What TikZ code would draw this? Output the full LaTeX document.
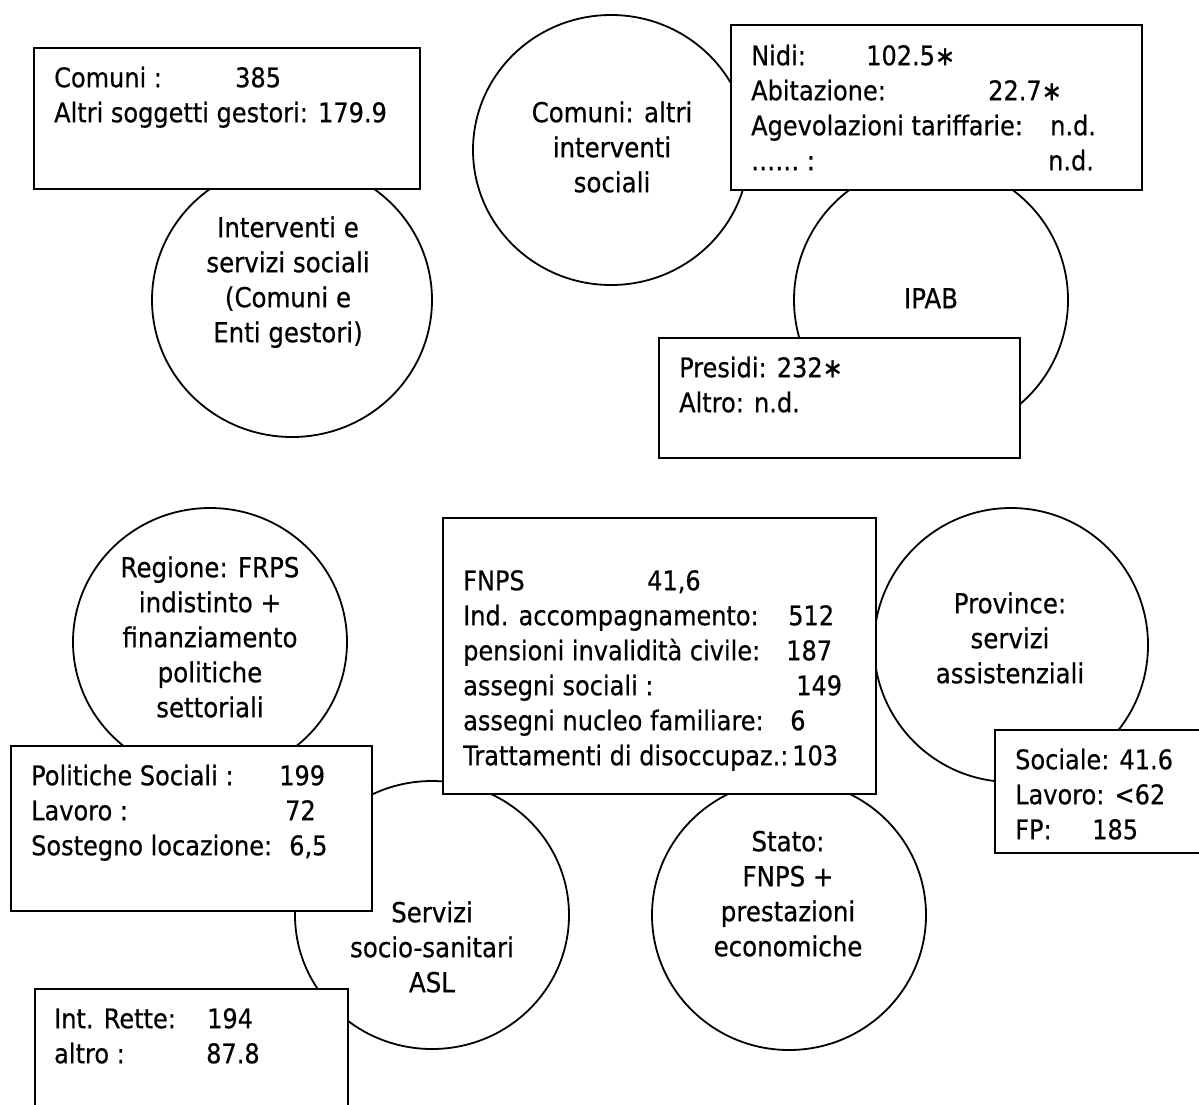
\documentclass[tikz,border=0pt]{standalone}
\usepackage{fontspec}
\setmainfont{DejaVu Sans}[FakeStretch=0.89, FakeBold=0.5]
\usetikzlibrary{shapes.geometric}
\tikzset{
  oval/.style={ellipse, draw, fill=white, line width=1.8pt, inner sep=0pt},
  databox/.style={rectangle, draw, fill=white, line width=1.8pt, inner sep=0pt, anchor=north west},
  txt/.style={inner sep=0pt, anchor=north west, align=left, font=\fontsize{27}{35}\selectfont},
  ctxt/.style={inner sep=0pt, anchor=north, align=center, font=\fontsize{27.5}{35}\selectfont},
}
\begin{document}
\begin{tikzpicture}[x=1pt, y=-1pt]
\useasboundingbox (0,0) rectangle (1199,1104);
\clip (0,0) rectangle (1199,1104);
% ovals
\node[oval, minimum width=280pt, minimum height=274pt] (B) at (292,300) {};
\node[oval, minimum width=276pt, minimum height=270pt] (C) at (611,150) {};
\node[oval, minimum width=274pt, minimum height=274pt] (E) at (931,300) {};
\node[oval, minimum width=274pt, minimum height=268pt] (R) at (210,642) {};
\node[oval, minimum width=274pt, minimum height=274pt] (P) at (1011,645) {};
\node[oval, minimum width=274pt, minimum height=268pt] (S) at (432,915) {};
\node[oval, minimum width=274pt, minimum height=270pt] (T) at (789,915) {};
% boxes
\node[databox, minimum width=386pt, minimum height=141pt] (A) at (33,47) {};
\node[databox, minimum width=411pt, minimum height=165pt] (D) at (730,24) {};
\node[databox, minimum width=361pt, minimum height=120pt] (F) at (658,337) {};
\node[databox, minimum width=433pt, minimum height=276pt] (N) at (442,517) {};
\node[databox, minimum width=361pt, minimum height=165pt] (G) at (10,745) {};
\node[databox, minimum width=215pt, minimum height=123pt] (H) at (994,729) {};
\node[databox, minimum width=313pt, minimum height=130pt] (I) at (34,988) {};
% oval texts
\node[ctxt] (Bt) at (288,212.5) {\strut Interventi e\\servizi sociali\\(Comuni e\\Enti gestori)};
\node[ctxt] (Ct) at (612,97.5) {\strut Comuni: altri\\interventi\\sociali};
\node[ctxt] (Et) at (931,283.5) {\strut IPAB};
\node[ctxt] (Rt) at (210,552.5) {\strut Regione: FRPS\\indistinto +\\finanziamento\\politiche\\settoriali};
\node[ctxt] (Pt) at (1010,588.5) {\strut Province:\\servizi\\assistenziali};
\node[ctxt] (St) at (432,897.5) {\strut Servizi\\socio-sanitari\\ASL};
\node[ctxt] (Tt) at (788,826.5) {\strut Stato:\\FNPS +\\prestazioni\\economiche};
% box texts
\node[txt] (At) at (54,62.5) {\strut\makebox[181pt][l]{Comuni :}385\\Altri soggetti gestori: 179.9};
\node[txt] (Dt) at (751,40.5) {\strut\makebox[115pt][l]{Nidi:}102.5∗\\
  \makebox[237pt][l]{Abitazione:}22.7∗\\
  \makebox[299pt][l]{Agevolazioni tariffarie:}n.d.\\
  \makebox[297pt][l]{…… :}n.d.};
\node[txt] (Ft) at (679,352.5) {\strut Presidi: 232∗\\Altro: n.d.};
\node[txt] (Nt) at (463,565.5) {\strut\makebox[184pt][l]{FNPS}41,6\\
  \makebox[325pt][l]{Ind. accompagnamento:}512\\
  \makebox[323pt][l]{pensioni invalidità civile:}187\\
  \makebox[333pt][l]{assegni sociali :}149\\
  \makebox[327pt][l]{assegni nucleo familiare:}6\\
  \makebox[329pt][l]{Trattamenti di disoccupaz.:}103};
\node[txt] (Gt) at (31,760.5) {\strut\makebox[248pt][l]{Politiche Sociali :}199\\
  \makebox[254pt][l]{Lavoro :}72\\
  \makebox[258pt][l]{Sostegno locazione:}6,5};
\node[txt] (Ht) at (1015,744.5) {\strut Sociale: 41.6\\Lavoro: <62\\\makebox[77pt][l]{FP:}185};
\node[txt] (It) at (54,1003.5) {\strut\makebox[153pt][l]{Int. Rette:}194\\
  \makebox[152pt][l]{altro :}87.8};
\end{tikzpicture}
\end{document}
